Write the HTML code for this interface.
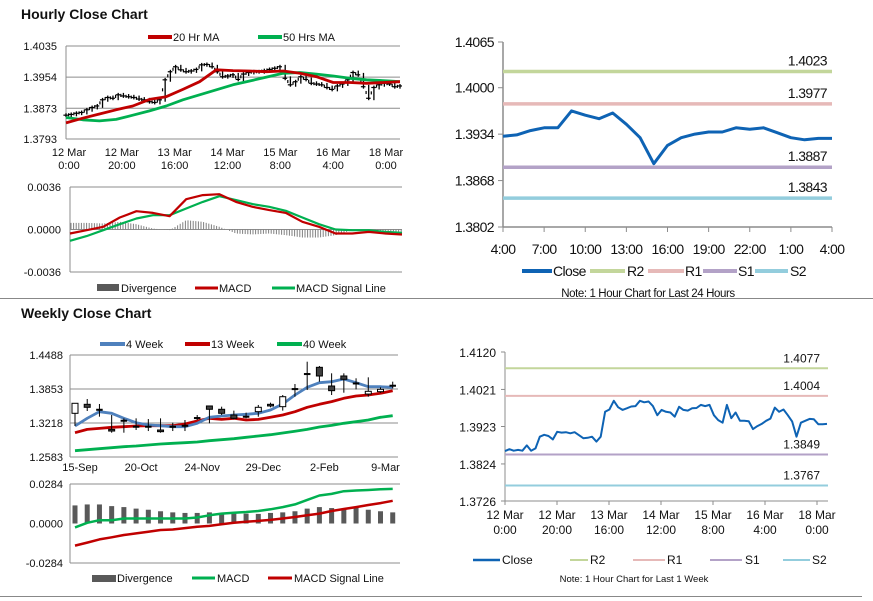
<!DOCTYPE html>
<html><head><meta charset="utf-8"><style>
html,body{margin:0;padding:0;background:#fff;}
svg{display:block;font-family:"Liberation Sans",sans-serif;}
.t{font-size:11px;fill:#111;}
.tr{font-size:14px;fill:#111;letter-spacing:-0.6px;}
.tb{font-size:12px;fill:#111;}
</style></head><body>
<svg id="s" width="873" height="601" viewBox="0 0 873 601" xmlns="http://www.w3.org/2000/svg">
<rect x="0" y="0" width="873" height="601" fill="#fff"/>
<text x="21" y="19" font-size="14" font-weight="bold" fill="#111">Hourly Close Chart</text>
<text x="21" y="318" font-size="14" font-weight="bold" fill="#111">Weekly Close Chart</text>
<line x1="0" y1="298.5" x2="873" y2="298.5" stroke="#888" stroke-width="1"/>
<line x1="0" y1="596.5" x2="862" y2="596.5" stroke="#888" stroke-width="1"/>

<g>
<line x1="148" y1="37" x2="172" y2="37" stroke="#c00000" stroke-width="4"/>
<text x="173" y="41" class="t">20 Hr MA</text>
<line x1="258" y1="37" x2="282" y2="37" stroke="#00b050" stroke-width="4"/>
<text x="283" y="41" class="t">50 Hrs MA</text>
</g>
<g>
<rect x="97" y="284" width="22" height="7" fill="#595959"/>
<text x="121" y="292" class="t">Divergence</text>
<line x1="195" y1="288" x2="218" y2="288" stroke="#c00000" stroke-width="3"/>
<text x="219" y="292" class="t">MACD</text>
<line x1="272" y1="288" x2="295" y2="288" stroke="#00b050" stroke-width="3"/>
<text x="296" y="292" class="t">MACD Signal Line</text>
</g>
<g>
<line x1="522" y1="271" x2="552" y2="271" stroke="#0e63b4" stroke-width="4"/>
<text x="553" y="276" class="tr">Close</text>
<line x1="590" y1="271" x2="625" y2="271" stroke="#c3d69b" stroke-width="4"/>
<text x="627" y="276" class="tr">R2</text>
<line x1="648" y1="271" x2="684" y2="271" stroke="#e6b9b8" stroke-width="4"/>
<text x="685" y="276" class="tr">R1</text>
<line x1="703" y1="271" x2="737" y2="271" stroke="#b3a2c7" stroke-width="4"/>
<text x="738" y="276" class="tr">S1</text>
<line x1="755" y1="271" x2="788" y2="271" stroke="#93cddd" stroke-width="4"/>
<text x="790" y="276" class="tr">S2</text>
<text x="648" y="297" font-size="11.5" text-anchor="middle" fill="#111" letter-spacing="-0.4">Note: 1 Hour Chart for Last 24 Hours</text>
</g>
<g>
<line x1="100" y1="344" x2="125" y2="344" stroke="#4f81bd" stroke-width="4"/>
<text x="126" y="348" class="t">4 Week</text>
<line x1="185" y1="344" x2="210" y2="344" stroke="#c00000" stroke-width="4"/>
<text x="211" y="348" class="t">13 Week</text>
<line x1="277" y1="344" x2="302" y2="344" stroke="#00b050" stroke-width="4"/>
<text x="303" y="348" class="t">40 Week</text>
</g>
<g>
<rect x="92" y="575" width="24" height="7" fill="#595959"/>
<text x="117" y="582" class="t">Divergence</text>
<line x1="192" y1="578" x2="215" y2="578" stroke="#00b050" stroke-width="3"/>
<text x="217" y="582" class="t">MACD</text>
<line x1="268" y1="578" x2="292" y2="578" stroke="#c00000" stroke-width="3"/>
<text x="294" y="582" class="t">MACD Signal Line</text>
</g>
<g>
<line x1="473" y1="560" x2="500" y2="560" stroke="#0e63b4" stroke-width="2.5"/>
<text x="502" y="564" class="tb">Close</text>
<line x1="570" y1="560" x2="588" y2="560" stroke="#c3d69b" stroke-width="2"/>
<text x="590" y="564" class="tb">R2</text>
<line x1="633" y1="560" x2="665" y2="560" stroke="#e6b9b8" stroke-width="2"/>
<text x="667" y="564" class="tb">R1</text>
<line x1="710" y1="560" x2="742" y2="560" stroke="#b3a2c7" stroke-width="2"/>
<text x="745" y="564" class="tb">S1</text>
<line x1="783" y1="560" x2="810" y2="560" stroke="#93cddd" stroke-width="2"/>
<text x="812" y="564" class="tb">S2</text>
<text x="634" y="582" font-size="9.5" text-anchor="middle" fill="#111">Note: 1 Hour Chart for Last 1 Week</text>
</g>
</svg>
<script>
// ---- Hourly price (left top)
const hCloses=[1.3855,1.3857,1.3860,1.3862,1.3869,1.3875,1.3879,1.3895,1.3901,1.3899,1.3908,1.3905,1.3903,1.3901,1.3897,1.3895,1.3890,1.3888,1.3895,1.3947,1.3968,1.3981,1.3973,1.3968,1.3970,1.3974,1.3986,1.3987,1.3981,1.3968,1.3955,1.3957,1.3960,1.3948,1.3962,1.3966,1.3968,1.3968,1.3971,1.3974,1.3977,1.3981,1.3951,1.3934,1.3942,1.3955,1.3948,1.3938,1.3936,1.3934,1.3927,1.3922,1.3931,1.3936,1.3947,1.3966,1.3960,1.3929,1.3899,1.3927,1.3934,1.3938,1.3936,1.3929,1.3931];
const hMA20=[1.3835,1.3847,1.3858,1.3869,1.3879,1.3896,1.3903,1.3922,1.3942,1.3973,1.3971,1.3970,1.3968,1.3970,1.3964,1.3955,1.3940,1.3940,1.3938,1.3940,1.3942];
const hMA50=[1.3849,1.3843,1.3840,1.3844,1.3855,1.3866,1.3879,1.3895,1.3908,1.3921,1.3934,1.3944,1.3954,1.3964,1.3966,1.3962,1.3957,1.3951,1.3947,1.3945,1.3942];
const hPriceTicks=["1.4035","1.3954","1.3873","1.3793"];
const hPriceTickVals=[1.4035,1.3954,1.3873,1.3793];
const hXLabels=[["12 Mar","0:00"],["12 Mar","20:00"],["13 Mar","16:00"],["14 Mar","12:00"],["15 Mar","8:00"],["16 Mar","4:00"],["18 Mar","0:00"]];
// ---- Hourly MACD
const hMACD=[-0.00034,-0.00006,0.00023,0.00102,0.00155,0.00141,0.00113,0.00257,0.00291,0.00299,0.00234,0.00192,0.00164,0.00141,0.00065,0.00023,-0.00034,-0.00034,-0.0002,-0.00034,-0.00042];
const hSignal=[-0.00096,-0.00056,-0.00006,0.00045,0.00093,0.00121,0.00121,0.00178,0.00234,0.00282,0.00249,0.00215,0.00192,0.00158,0.00102,0.00045,0,-0.00006,-0.00006,-0.0002,-0.00028];
const hDiv=[0.00056,0.00056,0.00051,0.00065,0.00045,0.00008,-0.00006,0.00079,0.00065,0.00023,-0.00034,-0.00042,-0.00034,-0.00048,-0.00068,-0.00068,-0.00048,-0.00006,-0.00006,-0.00011,-0.0002];
const hMacdTicks=["0.0036","0.0000","-0.0036"];
const hMacdTickVals=[0.0036,0,-0.0036];
// ---- 24 hour chart
const dCloses=[1.3931,1.3933,1.3939,1.3943,1.3943,1.3967,1.3961,1.3956,1.3964,1.3948,1.3929,1.3892,1.3918,1.3929,1.3934,1.3937,1.3937,1.3943,1.3941,1.3943,1.3936,1.3929,1.3926,1.3928,1.3928];
const dLevels=[1.4023,1.3977,1.3887,1.3843];
const dLevelNames=["r2","r1","s1","s2"];
const dTicks=["1.4065","1.4000","1.3934","1.3868","1.3802"];
const dTickVals=[1.4065,1.4000,1.3934,1.3868,1.3802];
const dXLabels=["4:00","7:00","10:00","13:00","16:00","19:00","22:00","1:00","4:00"];
// ---- Weekly candles
const wOpen=[1.3399,1.3567,1.3479,1.3099,1.3274,1.3162,1.3162,1.3087,1.3162,1.3180,1.3324,1.3536,1.3474,1.3367,1.3349,1.3430,1.3567,1.3523,1.3865,1.4146,1.4258,1.3909,1.4096,1.3971,1.3759,1.3803,1.3928];
const wClose=[1.3586,1.3511,1.3479,1.3068,1.3274,1.3162,1.3162,1.3056,1.3162,1.3180,1.3324,1.3474,1.3399,1.3305,1.3349,1.3511,1.3536,1.3709,1.3865,1.4146,1.4096,1.3822,1.4034,1.3971,1.3810,1.3847,1.3928];
const wHigh=[1.3586,1.3666,1.3573,1.3367,1.3305,1.3305,1.3292,1.3305,1.3224,1.3274,1.3367,1.3536,1.3523,1.3449,1.3411,1.3555,1.3598,1.3741,1.3946,1.4363,1.4283,1.4146,1.4146,1.4053,1.4071,1.3884,1.3990];
const wLow=[1.3162,1.3442,1.3336,1.3037,1.3037,1.3087,1.3068,1.3037,1.3068,1.3068,1.3274,1.3212,1.3367,1.3286,1.3305,1.3336,1.3511,1.3449,1.3709,1.3834,1.3990,1.3741,1.3784,1.3846,1.3709,1.3784,1.3865];
const w4=[1.3162,1.3305,1.3429,1.3399,1.3305,1.3224,1.3180,1.3168,1.3149,1.3149,1.3212,1.3324,1.3349,1.3367,1.3380,1.3399,1.3461,1.3573,1.3741,1.3884,1.3971,1.3990,1.4040,1.3971,1.3896,1.3896,1.3884];
const w13=[1.3037,1.3099,1.3118,1.3137,1.3149,1.3162,1.3168,1.3168,1.3168,1.3199,1.3255,1.3305,1.3286,1.3305,1.3274,1.3286,1.3324,1.3367,1.3429,1.3511,1.3567,1.3617,1.3679,1.3722,1.3741,1.3772,1.3822];
const w40=[1.2701,1.2719,1.2738,1.2757,1.2775,1.2788,1.2807,1.2825,1.2838,1.2850,1.2863,1.2887,1.2906,1.2925,1.2950,1.2975,1.2999,1.3032,1.3063,1.3099,1.3143,1.3174,1.3212,1.3243,1.3274,1.3324,1.3355];
const wTicks=["1.4488","1.3853","1.3218","1.2583"];
const wTickVals=[1.4488,1.3853,1.3218,1.2583];
const wXLabels=["15-Sep","20-Oct","24-Nov","29-Dec","2-Feb","9-Mar"];
const wXLabelIdx=[0,5,10,15,20,25];
// ---- Weekly MACD
const wDiv=[0.0130,0.0137,0.0137,0.0125,0.0118,0.0107,0.0099,0.0088,0.0080,0.0076,0.0076,0.0080,0.0076,0.0071,0.0071,0.0069,0.0076,0.0080,0.0088,0.0107,0.0118,0.0111,0.0107,0.0114,0.0099,0.0088,0.0080];
const wMACD=[-0.0028,0.0005,0.0024,0.0024,0.0036,0.0036,0.0036,0.0036,0.0036,0.0036,0.0043,0.0059,0.0071,0.0078,0.0083,0.0090,0.0102,0.0118,0.0137,0.0170,0.0201,0.0213,0.0232,0.0237,0.0241,0.0246,0.0249];
const wSignal=[-0.0159,-0.0137,-0.0114,-0.0099,-0.0083,-0.0071,-0.0059,-0.0047,-0.0043,-0.0033,-0.0024,-0.0017,-0.0005,0.0005,0.0012,0.0019,0.0026,0.0036,0.0047,0.0059,0.0071,0.0090,0.0104,0.0118,0.0133,0.0147,0.0163];
const wMacdTicks=["0.0284","0.0000","-0.0284"];
const wMacdTickVals=[0.0284,0,-0.0284];
// ---- Week hourly (right bottom)
const kCloses=[1.3858,1.3863,1.3859,1.3861,1.3859,1.3873,1.3859,1.3865,1.3896,1.3901,1.3898,1.3889,1.3909,1.3907,1.3908,1.3905,1.3908,1.3900,1.3892,1.3893,1.3896,1.3883,1.3896,1.3962,1.3968,1.3991,1.3974,1.3967,1.3971,1.3976,1.3977,1.3991,1.3987,1.3989,1.3977,1.3953,1.3967,1.3962,1.3960,1.3949,1.3975,1.3967,1.3965,1.3971,1.3972,1.3980,1.3977,1.3980,1.3953,1.3940,1.3933,1.3980,1.3945,1.3960,1.3938,1.3938,1.3937,1.3916,1.3924,1.3930,1.3938,1.3944,1.3973,1.3962,1.3968,1.3953,1.3936,1.3896,1.3933,1.3938,1.3943,1.3942,1.3929,1.3929,1.3930];
const kLevels=[1.4077,1.4004,1.3849,1.3767];
const kTicks=["1.4120","1.4021","1.3923","1.3824","1.3726"];
const kTickVals=[1.4120,1.4021,1.3923,1.3824,1.3726];
const kXLabels=[["12 Mar","0:00"],["12 Mar","20:00"],["13 Mar","16:00"],["14 Mar","12:00"],["15 Mar","8:00"],["16 Mar","4:00"],["18 Mar","0:00"]];

const svg=document.getElementById('s');
const NS='http://www.w3.org/2000/svg';
function mk(tag,attrs,name,parent){
  const el=document.createElementNS(NS,tag);
  for(const k in attrs) el.setAttribute(k,attrs[k]);
  
  
  (parent||svg).appendChild(el);
  return el;
}
function txt(x,y,s,name,opts,parent){
  const el=mk('text',Object.assign({x:x,y:y},opts||{}),name,parent);
  el.textContent=s;return el;
}
function scale(v0,p0,v1,p1){return v=>p0+(v-v0)*(p1-p0)/(v1-v0);}
function poly(vals,fx,fy,stroke,w,name,parent){
  const pts=vals.map((v,i)=>fx(i).toFixed(1)+','+fy(v).toFixed(1)).join(' ');
  return mk('polyline',{points:pts,fill:'none',stroke:stroke,'stroke-width':w,'stroke-linejoin':'round'},name,parent);
}
const gridC='#8c8c8c';

// ===== Panel 1: hourly price
(function(){
  const g=mk('g',{},'hourly-price-chart');
  const x0=66,x1=400,y=scale(1.4035,46,1.3793,139);
  hPriceTickVals.forEach((v,i)=>{
    mk('line',{x1:x0,x2:x1,y1:y(v),y2:y(v),stroke:gridC,'stroke-width':1},'h-price-gridline',g);
    txt(57,y(v)+4,hPriceTicks[i],'h-price-tick-label',{'text-anchor':'end',class:'t'},g);
  });
  mk('line',{x1:x0,x2:x0,y1:46,y2:139,stroke:gridC},'h-price-y-axis',g);
  hXLabels.forEach((l,i)=>{
    const xx=x0+3+i*(x1-x0-17)/6;
    txt(xx,156,l[0],'h-price-x-label',{'text-anchor':'middle',class:'t'},g);
    txt(xx,169,l[1],'h-price-x-label',{'text-anchor':'middle',class:'t'},g);
  });
  const fx=i=>x0+i*(x1-x0)/(hCloses.length-1);
  hCloses.forEach((v,i)=>{
    const p=i>0?hCloses[i-1]:v;
    const hi=Math.max(p,v)+0.0005,lo=Math.min(p,v)-0.0005;
    mk('line',{x1:fx(i),x2:fx(i),y1:y(hi),y2:y(lo),stroke:'#000','stroke-width':1.3},'h-price-bar',g);
    const xm=fx(i)-2.6;
    if(i>0) mk('line',{x1:xm,x2:xm,y1:y((p+v)/2+0.0004),y2:y((p+v)/2-0.0004),stroke:'#000','stroke-width':1.2},'h-price-bar',g);
    mk('line',{x1:fx(i)-2.6,x2:fx(i)+2,y1:y(v),y2:y(v),stroke:'#000','stroke-width':1.2},'h-price-close-tick',g);
  });
  const fm=i=>x0+i*(x1-x0)/(hMA20.length-1);
  poly(hMA50,fm,y,'#00b050',2.8,'h-50hr-ma-line',g);
  poly(hMA20,fm,y,'#c00000',2.8,'h-20hr-ma-line',g);
})();

// ===== Panel 2: hourly MACD
(function(){
  const g=mk('g',{},'hourly-macd-chart');
  const x0=70,x1=402,y=scale(0.0036,187,-0.0036,272);
  hMacdTickVals.forEach((v,i)=>{
    mk('line',{x1:x0,x2:x1,y1:y(v),y2:y(v),stroke:gridC,'stroke-width':1},'h-macd-gridline',g);
    txt(61,y(v)+4,hMacdTicks[i],'h-macd-tick-label',{'text-anchor':'end',class:'t'},g);
  });
  mk('line',{x1:x0,x2:x0,y1:187,y2:272,stroke:gridC},'h-macd-y-axis',g);
  const n=hDiv.length,step=(x1-x0)/(n-1);
  for(let x=x0+1;x<=x1;x+=2.6){
    const t=(x-x0)/step,i=Math.min(n-2,Math.floor(t)),f=t-i;
    const v=hDiv[i]*(1-f)+hDiv[i+1]*f;
    mk('line',{x1:x,x2:x,y1:y(0),y2:y(v),stroke:'#7f7f7f','stroke-width':1},'h-divergence-bar',g);
  }
  const fx=i=>x0+i*step;
  poly(hSignal,fx,y,'#00b050',2.2,'h-macd-signal-line',g);
  poly(hMACD,fx,y,'#c00000',2.2,'h-macd-line',g);
})();

// ===== Panel 3: 24h chart
(function(){
  const g=mk('g',{},'day-close-chart');
  const x0=503,x1=832,y=scale(1.4065,42,1.3802,227);
  const cols=['#c3d69b','#e6b9b8','#b3a2c7','#93cddd'];
  dTickVals.forEach((v,i)=>{
    mk('line',{x1:x0-5,x2:x0,y1:y(v),y2:y(v),stroke:gridC},'d-y-tick',g);
    txt(494,y(v)+5,dTicks[i],'d-y-tick-label',{'text-anchor':'end',class:'tr'},g);
  });
  mk('line',{x1:x0,x2:x0,y1:42,y2:227,stroke:gridC,'stroke-width':1.5},'d-y-axis',g);
  mk('line',{x1:x0,x2:x1,y1:227,y2:227,stroke:gridC,'stroke-width':1.5},'d-x-axis',g);
  const fx=i=>x0+i*(x1-x0)/(dCloses.length-1);
  dXLabels.forEach((l,i)=>{
    const xx=x0+i*(x1-x0)/(dXLabels.length-1);
    mk('line',{x1:xx,x2:xx,y1:227,y2:232,stroke:gridC},'d-x-tick',g);
    txt(xx,254,l,'d-x-tick-label',{'text-anchor':'middle',class:'tr'},g);
  });
  dLevels.forEach((v,i)=>{
    mk('line',{x1:x0,x2:x1,y1:y(v),y2:y(v),stroke:cols[i],'stroke-width':3.5},'d-level-'+dLevelNames[i],g);
    txt(827,y(v)-6,v.toFixed(4),'d-level-label-'+dLevelNames[i],{'text-anchor':'end',class:'tr'},g);
  });
  poly(dCloses,fx,y,'#0e63b4',3,'d-close-line',g);
})();

// ===== Panel 4: weekly price
(function(){
  const g=mk('g',{},'weekly-price-chart');
  const x0=70,x1=398,y=scale(1.4488,355,1.2583,457);
  wTickVals.forEach((v,i)=>{
    mk('line',{x1:x0,x2:x1,y1:y(v),y2:y(v),stroke:gridC,'stroke-width':1},'w-price-gridline',g);
    txt(63,y(v)+4,wTicks[i],'w-price-tick-label',{'text-anchor':'end',class:'t'},g);
  });
  mk('line',{x1:x0,x2:x0,y1:355,y2:457,stroke:gridC},'w-price-y-axis',g);
  const fx=i=>75+i*12.22;
  wXLabels.forEach((l,i)=>{
    txt(fx(wXLabelIdx[i])+5,471,l,'w-x-label',{'text-anchor':'middle',class:'t'},g);
  });
  poly(w40,fx,y,'#00b050',2.8,'w-40week-line',g);
  poly(w13,fx,y,'#c00000',2.8,'w-13week-line',g);
  poly(w4,fx,y,'#4f81bd',2.8,'w-4week-line',g);
  wOpen.forEach((o,i)=>{
    const c=wClose[i],xx=fx(i);
    mk('line',{x1:xx,x2:xx,y1:y(wHigh[i]),y2:y(wLow[i]),stroke:'#000','stroke-width':1},'w-candle-wick',g);
    const top=y(Math.max(o,c)),bot=y(Math.min(o,c));
    const h=Math.max(bot-top,1.5);
    mk('rect',{x:xx-3,y:top,width:6,height:h,fill:c>o?'#fff':(c<o?'#404040':'#000'),stroke:'#000','stroke-width':c===o?0.5:1},'w-candle-body',g);
  });
})();

// ===== Panel 5: weekly MACD
(function(){
  const g=mk('g',{},'weekly-macd-chart');
  const x0=70,x1=400,y=scale(0.0284,484,-0.0284,563);
  wMacdTickVals.forEach((v,i)=>{
    if(v!==0) mk('line',{x1:x0,x2:x1,y1:y(v),y2:y(v),stroke:gridC,'stroke-width':1},'w-macd-gridline',g);
    txt(63,y(v)+4,wMacdTicks[i],'w-macd-tick-label',{'text-anchor':'end',class:'t'},g);
  });
  mk('line',{x1:x0,x2:x0,y1:484,y2:563,stroke:gridC},'w-macd-y-axis',g);
  const fx=i=>75+i*12.22;
  wDiv.forEach((v,i)=>{
    mk('rect',{x:fx(i)-2.5,y:y(v),width:5,height:y(0)-y(v),fill:'#595959'},'w-divergence-bar',g);
  });
  poly(wMACD,fx,y,'#00b050',2.5,'w-macd-line',g);
  poly(wSignal,fx,y,'#c00000',2.5,'w-macd-signal-line',g);
})();

// ===== Panel 6: week hourly
(function(){
  const g=mk('g',{},'week-close-chart');
  const x0=505,x1=828,y=scale(1.4120,352,1.3726,501);
  const cols=['#c3d69b','#e6b9b8','#b3a2c7','#93cddd'];
  kTickVals.forEach((v,i)=>{
    mk('line',{x1:x0-4,x2:x0,y1:y(v),y2:y(v),stroke:gridC},'k-y-tick',g);
    txt(496,y(v)+5,kTicks[i],'k-y-tick-label',{'text-anchor':'end',class:'tb'},g);
  });
  mk('line',{x1:x0,x2:x0,y1:352,y2:501,stroke:gridC},'k-y-axis',g);
  mk('line',{x1:x0,x2:x1,y1:501,y2:501,stroke:gridC},'k-x-axis',g);
  kXLabels.forEach((l,i)=>{
    const xx=x0+i*52;
    mk('line',{x1:xx,x2:xx,y1:501,y2:505,stroke:gridC},'k-x-tick',g);
    txt(xx,519,l[0],'k-x-label',{'text-anchor':'middle',class:'tb'},g);
    txt(xx,534,l[1],'k-x-label',{'text-anchor':'middle',class:'tb'},g);
  });
  kLevels.forEach((v,i)=>{
    mk('line',{x1:x0,x2:x1,y1:y(v),y2:y(v),stroke:cols[i],'stroke-width':2},'k-level-'+dLevelNames[i],g);
    txt(820,y(v)-6,v.toFixed(4),'k-level-label-'+dLevelNames[i],{'text-anchor':'end',class:'tb'},g);
  });
  const fx=i=>x0+i*(827-x0)/(kCloses.length-1);
  poly(kCloses,fx,y,'#0e63b4',2,'k-close-line',g);
})();
</script>
</body></html>
